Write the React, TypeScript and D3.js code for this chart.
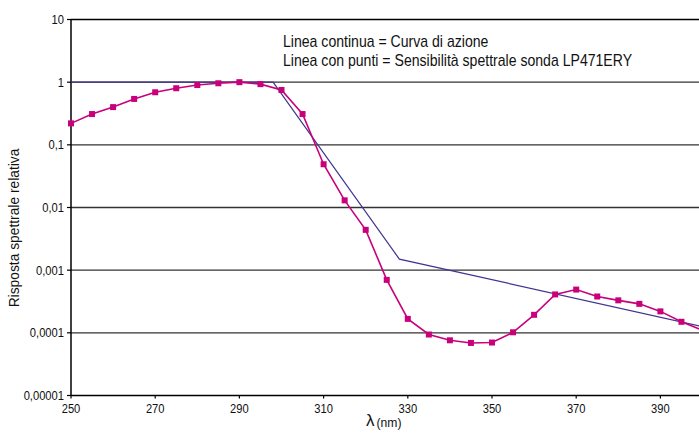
import * as d3 from "d3";
import type { ReactNode } from "react";

const WIDTH = 699;
const HEIGHT = 437;
const FONT = "'Liberation Sans', Arial, Helvetica, sans-serif";
const NARROW = 0.86; // il font originale è un Helvetica stretto

// sensibilità spettrale sonda (punti ogni 5 nm)
const probeWavelengths = [
  250, 255, 260, 265, 270, 275, 280, 285, 290, 295, 300, 305, 310, 315, 320,
  325, 330, 335, 340, 345, 350, 355, 360, 365, 370, 375, 380, 385, 390, 395, 400,
];
const probeValues = [
  0.22, 0.31, 0.4, 0.54, 0.69, 0.8, 0.9, 0.96, 1.0, 0.93, 0.75, 0.31, 0.049,
  0.013, 0.0044, 0.0007, 0.000167, 0.000094, 0.000076, 0.000069, 0.00007,
  0.000102, 0.000194, 0.00041, 0.00049, 0.00038, 0.00033, 0.00029, 0.00022,
  0.00015, 0.00011,
];

// curva di azione (segmenti)
const actionWavelengths = [250, 298, 328, 400];
const actionValues = [1, 1, 0.0015, 0.000126];

const yTicks = [10, 1, 0.1, 0.01, 0.001, 0.0001, 0.00001];
const yTickLabels = ["10", "1", "0,1", "0,01", "0,001", "0,0001", "0,00001"];
const xTicks = [250, 270, 290, 310, 330, 350, 370, 390];

const legendLines = [
  "Linea continua = Curva di azione",
  "Linea con punti = Sensibilità spettrale sonda LP471ERY",
];

type NTextProps = {
  x: number;
  y: number;
  size: number;
  anchor?: "start" | "middle" | "end";
  dy?: string;
  sx?: number;
  children: ReactNode;
};

function NText({ x, y, size, anchor = "start", dy, sx = NARROW, children }: NTextProps) {
  return (
    <text
      transform={`translate(${x},${y}) scale(${sx},1)`}
      textAnchor={anchor}
      dy={dy}
      fontSize={size}
      fill="#111"
    >
      {children}
    </text>
  );
}

export default function App() {
  const x = d3.scaleLinear().domain([250, 400]).range([71, 702.5]);
  const y = d3.scaleLog().domain([0.00001, 10]).range([395.5, 19.5]);

  const line = d3
    .line<[number, number]>()
    .x((d) => x(d[0]))
    .y((d) => y(d[1]));

  const probe = probeWavelengths.map((w, i) => [w, probeValues[i]] as [number, number]);
  const action = actionWavelengths.map((w, i) => [w, actionValues[i]] as [number, number]);

  const left = x.range()[0];
  const bottom = y.range()[0];

  return (
    <svg
      width={WIDTH}
      height={HEIGHT}
      style={{ position: "absolute", left: 0, top: 0, background: "#fff" }}
      fontFamily={FONT}
    >
      {/* griglia */}
      {yTicks.slice(0, -1).map((t) => (
        <line
          key={`g-${t}`}
          x1={left}
          x2={WIDTH}
          y1={y(t)}
          y2={y(t)}
          stroke={t === 10 ? "#000" : "#333"}
          strokeWidth={1.3}
        />
      ))}

      {/* etichette asse y */}
      {yTicks.map((t, i) => (
        <g key={`yt-${t}`}>
          <line x1={left - 4} x2={left} y1={y(t)} y2={y(t)} stroke="#000" strokeWidth={1.2} />
          <NText x={left - 7} y={y(t)} dy="0.35em" anchor="end" size={13}>
            {yTickLabels[i]}
          </NText>
        </g>
      ))}

      {/* etichette asse x */}
      {xTicks.map((t) => (
        <g key={`xt-${t}`}>
          <line x1={x(t)} x2={x(t)} y1={bottom} y2={bottom + 3} stroke="#000" strokeWidth={1.2} />
          <NText x={x(t)} y={bottom + 17} anchor="middle" size={13}>
            {t}
          </NText>
        </g>
      ))}

      {/* assi */}
      <line x1={left} x2={left} y1={y(10)} y2={bottom} stroke="#000" strokeWidth={1.5} />
      <line x1={left} x2={WIDTH} y1={bottom} y2={bottom} stroke="#000" strokeWidth={1.5} />

      {/* curva di azione */}
      <path d={line(action) ?? ""} fill="none" stroke="#3f348f" strokeWidth={1.2} />

      {/* sensibilità sonda */}
      <path d={line(probe) ?? ""} fill="none" stroke="#c8007a" strokeWidth={1.6} />
      {probe.map((d) => (
        <rect
          key={`p-${d[0]}`}
          x={x(d[0]) - 3}
          y={y(d[1]) - 3}
          width={6}
          height={6}
          fill="#c8007a"
        />
      ))}

      {/* legenda */}
      {legendLines.map((s, i) => (
        <NText key={s} x={283} y={47 + i * 19} size={16} sx={0.88}>
          {s}
        </NText>
      ))}

      {/* titoli assi */}
      <text
        transform={`translate(19, 228) rotate(-90) scale(0.92,1)`}
        textAnchor="middle"
        fontSize={15}
        fill="#111"
      >
        Risposta spettrale relativa
      </text>
      <text x={366} y={426} fontSize={17} fill="#111">
        λ
      </text>
      <NText x={376.5} y={427} size={13.5} sx={0.9}>
        (nm)
      </NText>
    </svg>
  );
}
